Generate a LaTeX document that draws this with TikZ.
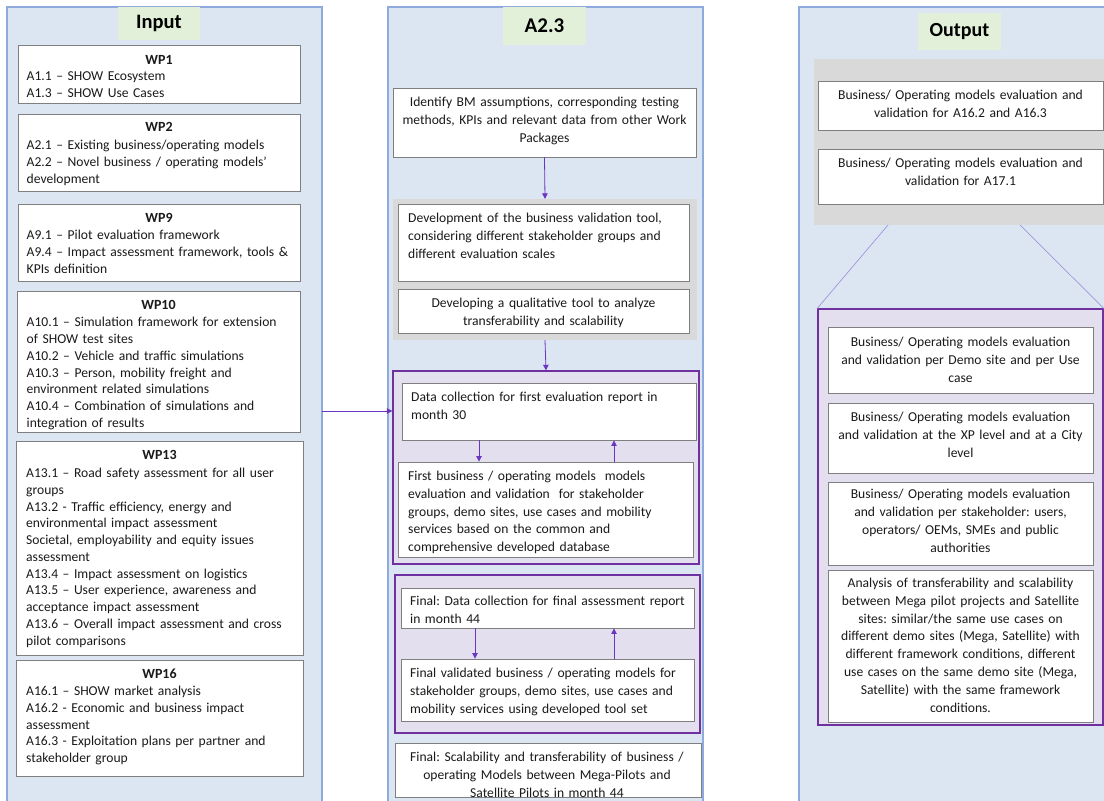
\documentclass[tikz,border=0pt]{standalone}
\usepackage{fontspec}
\setmainfont{Carlito}
\frenchspacing
\usetikzlibrary{fit,arrows.meta,calc}
\definecolor{panelfill}{HTML}{DCE6F2}
\definecolor{panelline}{HTML}{8FAADC}
\definecolor{labelfill}{HTML}{E2F0D9}
\definecolor{groupgray}{HTML}{D9D9D9}
\definecolor{boxline}{HTML}{7F7F7F}
\definecolor{grpfill}{HTML}{E3DFEE}
\definecolor{grpline}{HTML}{7030A0}
\definecolor{arrowc}{HTML}{6A35C0}
\definecolor{linkc}{HTML}{A294DC}
\definecolor{txtc}{HTML}{1A1A1A}
\tikzset{
  panel/.style={draw=panelline, fill=panelfill, line width=1.2pt, inner sep=0},
  colhead/.style={fill=labelfill, inner sep=0},
  headtxt/.style={inner sep=0, font=\bfseries\fontsize{#1}{#1}\selectfont, text=black},
  graygrp/.style={fill=groupgray, inner sep=0},
  grp/.style={draw=grpline, fill=grpfill, line width=1.4pt, inner sep=0},
  box/.style={draw=boxline, fill=white, line width=0.9pt, inner sep=0},
  wptitle/.style={inner sep=0, font=\bfseries\fontsize{14}{16}\selectfont, text=txtc, anchor=base},
  lbody/.style={inner sep=0, font=\fontsize{13.6}{16.75}\selectfont, text=txtc, text width=300pt, align=left, anchor=base west},
  mleft/.style={inner sep=0, font=\fontsize{13.6}{17.9}\selectfont, text=txtc, text width=300pt, align=left, anchor=base west},
  mcenter/.style={inner sep=0, font=\fontsize{13.6}{17.9}\selectfont, text=txtc, text width=320pt, align=center, anchor=base},
  arr/.style={draw=arrowc, line width=0.8pt, -{Triangle[length=5.5pt,width=5.5pt]}},
  link/.style={draw=linkc, line width=0.7pt}
}
\begin{document}
\begin{tikzpicture}[x=1pt,y=-1pt]
\useasboundingbox (0,0) rectangle (1104,801);
\clip (0,0) rectangle (1104,801);
\fill[white] (0,0) rectangle (1104,801);

% ---------------- Input column ----------------
\node[panel, fit={(7,7) (322,815)}] (inpanel) {};
\node[colhead, fit={(118,7) (200,40)}] (inhead) {};
\node[headtxt=20.5] (inheadt) at (inhead.center) {Input};

\node[box, fit={(18,45) (300,103)}] (wp1) {};
\node[wptitle] (wp1h) at (159,64.2) {WP1};
\node[lbody] (wp1b) at (26.5,80.5) {A1.1 – SHOW Ecosystem\\A1.3 – SHOW Use Cases};

\node[box, fit={(18,114) (300,191)}] (wp2) {};
\node[wptitle] (wp2h) at (159,131.2) {WP2};
\node[lbody] (wp2b) at (26.5,149.5) {A2.1 – Existing business/operating models\\A2.2 – Novel business / operating models’\\development};

\node[box, fit={(18,204) (300,281)}] (wp9) {};
\node[wptitle] (wp9h) at (159,222.2) {WP9};
\node[lbody] (wp9b) at (26.5,239.5) {A9.1 – Pilot evaluation framework\\A9.4 – Impact assessment framework, tools \&\\KPIs definition};

\node[box, fit={(17,291) (300,432)}] (wp10) {};
\node[wptitle] (wp10h) at (158.5,309.2) {WP10};
\node[lbody] (wp10b) at (26.5,326.8) {A10.1 – Simulation framework for extension\\of SHOW test sites\\A10.2 – Vehicle and traffic simulations\\A10.3 – Person, mobility freight and\\environment\ related simulations\\A10.4 – Combination of simulations and\\integration of results};

\node[box, fit={(16,441) (303,655)}] (wp13) {};
\node[wptitle] (wp13h) at (159.5,459.9) {WP13};
\node[lbody] (wp13b) at (26,477.5) {A13.1 – Road safety assessment for all user\\groups\\A13.2 - Traffic efficiency, energy and\\environmental\ impact assessment\\Societal, employability and equity issues\\assessment\\A13.4 – Impact assessment on logistics\\A13.5 – User experience, awareness and\\acceptance impact assessment\\A13.6 – Overall\ impact assessment and cross\\pilot comparisons};

\node[box, fit={(16,660) (303,776)}] (wp16) {};
\node[wptitle] (wp16h) at (159.5,678.2) {WP16};
\node[lbody] (wp16b) at (26,695.5) {A16.1 – SHOW market analysis\\A16.2 - Economic and business impact\\assessment\\A16.3 - Exploitation plans per partner and\\stakeholder group};

% ---------------- A2.3 column ----------------
\node[panel, fit={(388,7) (703,815)}] (midpanel) {};
\node[colhead, fit={(503,7) (586,45)}] (midhead) {};
\node[headtxt=21] (midheadt) at (midhead.center) {A2.3};

\node[box, fit={(393,88) (696,157)}] (idbm) {};
\node[mcenter] (idbmt) at (544.5,106.2) {Identify BM assumptions, corresponding testing\\methods, KPIs and relevant data from other Work\\Packages};

\node[graygrp, fit={(393,199) (697,340)}] (tools) {};
\node[box, fit={(398,204) (689,281)}] (dev) {};
\node[mleft] (devt) at (408,222.5) {Development\ of the business validation tool,\\considering different stakeholder groups and\\different evaluation scales};
\node[box, fit={(398,289) (689,333)}] (qual) {};
\node[mcenter] (qualt) at (543.5,307.5) {Developing a qualitative tool to analyze\\transferability and scalability};

\node[grp, fit={(393,371) (699,564)}] (grpA) {};
\node[box, fit={(402,383) (696,440)}] (dc1) {};
\node[mleft] (dc1t) at (411,401.5) {Data collection for first evaluation report in\\month 30};
\node[box, fit={(398,462) (693,557)}] (fb1) {};
\node[mleft] (fb1t) at (408,480.2) {First business / operating models\ \ models\\evaluation and validation\ \ for stakeholder\\groups, demo sites, use cases and mobility\\services based on the common and\\comprehensive\ developed\ database};

\node[grp, fit={(395,575) (700,733)}] (grpB) {};
\node[box, fit={(401,588) (694,628)}] (dc2) {};
\node[mleft] (dc2t) at (410,605.5) {Final: Data collection for final assessment report\\in month 44};
\node[box, fit={(401,659) (694,721)}] (fb2) {};
\node[mleft] (fb2t) at (410,677.2) {Final validated business / operating models for\\stakeholder groups, demo sites, use cases and\\mobility services using developed tool set};

\node[box, fit={(395,743) (701,797)}] (scal) {};
\node[mcenter] (scalt) at (547,761.2) {Final: Scalability and transferability of business /\\operating Models between\ Mega-Pilots and\\Satellite Pilots in month 44};

% arrows in A2.3
\draw[arr] (idbm.south) -- (tools.north);
\draw[arr] (tools.south) -- (grpA.north);
\coordinate (a1) at ([xshift=-70pt]dc1.south);
\coordinate (a2) at ([xshift=65pt]dc1.south);
\draw[arr] (a1) -- (a1 |- fb1.north);
\draw[arr] (a2 |- fb1.north) -- (a2);
\coordinate (b1) at ([xshift=-72.5pt]dc2.south);
\coordinate (b2) at ([xshift=66.5pt]dc2.south);
\draw[arr] (b1) -- (b1 |- fb2.north);
\draw[arr] (b2 |- fb2.north) -- (b2);

% input -> A2.3
\coordinate (inout) at (322,411);
\draw[arr] (inout) -- (inout -| grpA.west);

% ---------------- Output column ----------------
\node[panel, fit={(799,7) (1130,815)}] (outpanel) {};
\node[colhead, fit={(918,13) (1001,50)}] (outhead) {};
\node[headtxt=20] (outheadt) at (outhead.center) {Output};

\node[graygrp, fit={(814,59) (1130,225)}] (outgray) {};
\node[box, fit={(818,81) (1103,130)}] (o1) {};
\node[mcenter] (o1t) at (960.5,99.5) {Business/ Operating models evaluation and\\validation for A16.2 and A16.3};
\node[box, fit={(818,149) (1103,204)}] (o2) {};
\node[mcenter] (o2t) at (960.5,167.8) {Business/ Operating models evaluation and\\validation for A17.1};

\node[grp, fit={(818,309) (1103,725)}] (grpC) {};
\coordinate (l1) at (888,225);
\coordinate (l2) at (1020,225);
\draw[link] (l1) -- (grpC.north west);
\draw[link] (l2) -- (grpC.north east);

\node[box, fit={(828,327) (1093,393)}] (ra) {};
\node[mcenter] (rat) at (960.5,346.2) {Business/ Operating models evaluation\\and validation per Demo site and per Use\\case};
\node[box, fit={(828,403) (1093,473)}] (rb) {};
\node[mcenter] (rbt) at (960.5,421.8) {Business/ Operating models evaluation\\and validation at the XP level and at a City\\level};
\node[box, fit={(828,482) (1093,565)}] (rc) {};
\node[mcenter] (rct) at (960.5,498.5) {Business/ Operating models evaluation\\and validation per stakeholder: users,\\operators/ OEMs, SMEs and public\\authorities};
\node[box, fit={(828,570) (1093,722)}] (rd) {};
\node[mcenter] (rdt) at (960.5,587.2) {Analysis of transferability and scalability\\between Mega pilot projects and Satellite\\sites: similar/the same use cases on\\different demo sites (Mega, Satellite) with\\different framework conditions, different\\use cases on the same demo site (Mega,\\Satellite) with the same framework\\conditions.};
\end{tikzpicture}
\end{document}
